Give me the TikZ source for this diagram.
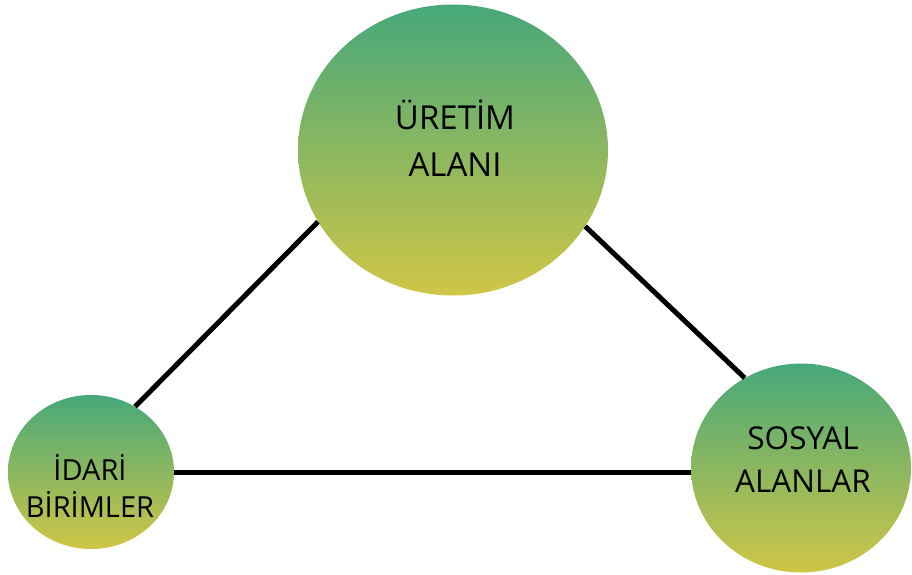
\documentclass[tikz,border=0pt]{standalone}
\usepackage{fontspec}
\setmainfont{Open Sans}
\usetikzlibrary{shapes.geometric}
\definecolor{topgreen}{RGB}{70,168,122}
\definecolor{bottomyellow}{RGB}{208,198,70}
\begin{document}
\begin{tikzpicture}[x=1pt,y=-1pt,
  blob/.style={ellipse, inner sep=0pt, top color=topgreen, bottom color=bottomyellow, draw=none},
  caption/.style={align=center, text=black, inner sep=0pt},
  link/.style={line width=5pt, black}]
  \useasboundingbox (0,0) rectangle (912,575);
  % the three areas
  \node[blob, minimum width=310pt, minimum height=291pt] (T) at (453,150) {};
  \node[blob, minimum width=166pt, minimum height=154pt] (L) at (91,472) {};
  \node[blob, minimum width=220pt, minimum height=209pt] (R) at (801,468) {};
  % labels
  \node[caption, font=\fontsize{33}{47}\selectfont] (tl) at (455,138) {ÜRETİM\\ALANI};
  \node[caption, font=\fontsize{29}{37}\selectfont] (ll) at (90,486) {İDARİ\\BİRİMLER};
  \node[caption, font=\fontsize{31.5}{43}\selectfont] (rl) at (803,460) {SOSYAL\\ALANLAR};
  % connecting triangle
  \draw[link] (L.56.7) -- (T.208);
  \draw[link] (T.330) -- (R.122);
  \draw[link] (L.east) -- (L.east -| R.west);
\end{tikzpicture}
\end{document}
